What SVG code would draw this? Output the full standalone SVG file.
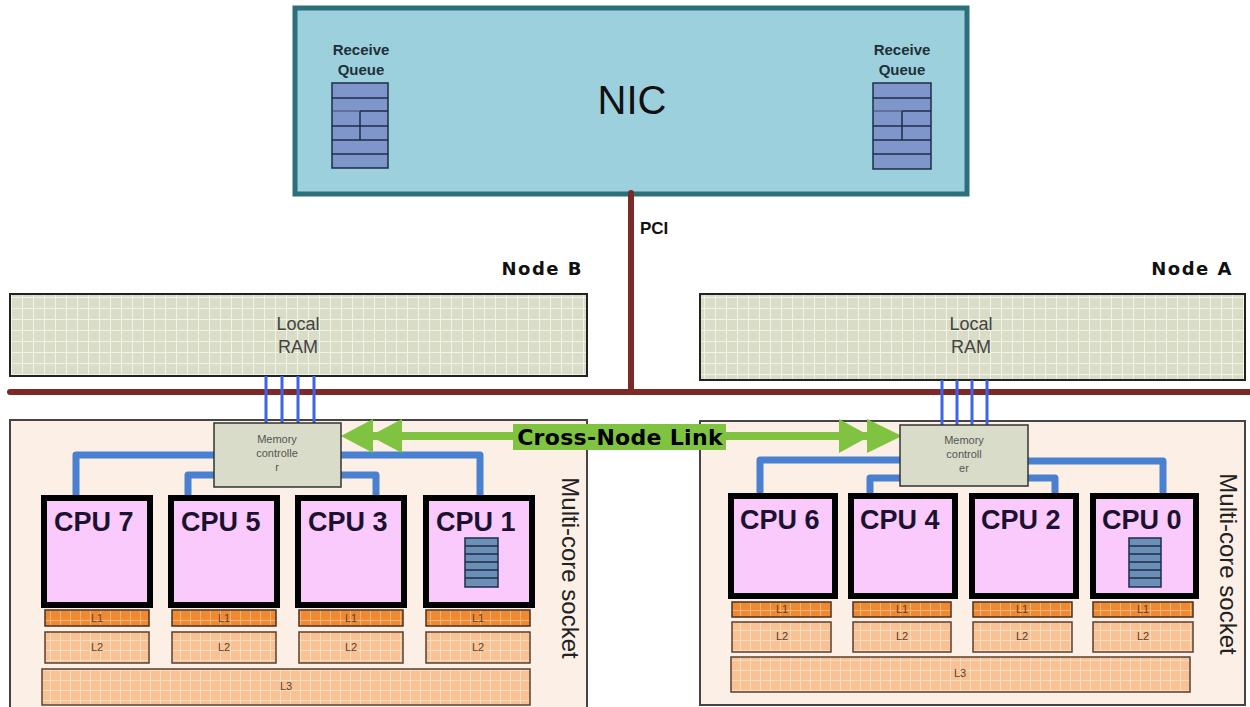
<svg xmlns="http://www.w3.org/2000/svg" width="1250" height="707" viewBox="0 0 1250 707">
<defs>
<pattern id="ramGrid" width="11" height="11" patternUnits="userSpaceOnUse">
<rect width="11" height="11" fill="#d9dcc6"/>
<path d="M0 0.5H11M0.5 0V11" stroke="#f2f3e6" stroke-width="1"/>
</pattern>
<pattern id="l1Grid" width="10" height="10" patternUnits="userSpaceOnUse">
<rect width="10" height="10" fill="#f08a32"/>
<path d="M0 0.5H10M0.5 0V10" stroke="#f6b377" stroke-width="1"/>
</pattern>
<pattern id="l2Grid" width="10" height="10" patternUnits="userSpaceOnUse">
<rect width="10" height="10" fill="#f8c294"/>
<path d="M0 0.5H10M0.5 0V10" stroke="#fcdcc0" stroke-width="1"/>
</pattern>
</defs>
<style>
.lbl{font-family:"Liberation Sans",Arial,sans-serif;}
.rq{font-family:"Liberation Sans",Arial,sans-serif;font-weight:bold;font-size:15px;fill:#1e3038;text-anchor:middle;}
.ram{fill:url(#ramGrid);stroke:#222;stroke-width:2;}
.ramt{font-family:"Liberation Sans",Arial,sans-serif;font-size:18px;fill:#444;text-anchor:middle;}
.node{font-family:"DejaVu Sans",Verdana,sans-serif;font-weight:bold;font-size:18px;fill:#111;text-anchor:end;}
.sock{fill:#fcefe5;stroke:#444;stroke-width:2;}
.sockt{font-family:"Liberation Sans",Arial,sans-serif;font-size:24px;fill:#222;text-anchor:middle;}
.mc{fill:#d9dcc9;stroke:#333;stroke-width:1.5;}
.mct{font-family:"Liberation Sans",Arial,sans-serif;font-size:11px;fill:#555;text-anchor:middle;}
.cpu{fill:#fbcafc;stroke:#000;stroke-width:6;}
.cput{font-family:"Liberation Sans",Arial,sans-serif;font-weight:bold;font-size:27px;fill:#1c1230;}
.l1{fill:url(#l1Grid);stroke:#4a3020;stroke-width:1.5;}
.l2{fill:url(#l2Grid);stroke:#5a4030;stroke-width:1.5;}
.ct{font-family:"Liberation Sans",Arial,sans-serif;font-size:11px;fill:#5a4030;text-anchor:middle;}
.bus{stroke:#7b2b26;stroke-width:6;fill:none;stroke-linecap:round;}
.mem{stroke:#3d63e6;stroke-width:3;fill:none;}
.link{stroke:#4a80d0;stroke-width:7;fill:none;stroke-linejoin:round;stroke-linecap:round;}
.q{fill:#7e96c9;stroke:#1e2c48;stroke-width:1.5;}
.ql{stroke:#1e2c48;stroke-width:1.5;}
.cq{fill:#6c8fb8;stroke:#1e2c48;stroke-width:1.5;}
.green{fill:#80c341;}
</style>

<!-- NIC -->
<g id="nic">
<rect x="295" y="8" width="672" height="186" fill="#9dd0dd" stroke="#2e6f7c" stroke-width="5"/>
<text x="632" y="114" class="lbl" font-size="40" fill="#111" text-anchor="middle">NIC</text>
</g>
<g id="rq-left">
<text x="361" y="55" class="rq">Receive</text>
<text x="361" y="75" class="rq">Queue</text>
<rect x="332" y="83" width="56" height="85" class="q"/>
<path d="M332 98H388M360 111H388M332 126H388M332 140H388M332 154H388M360 111V140" class="ql" fill="none"/>
<path d="M332 111H360" stroke="#3a4c78" stroke-width="1"/>
</g>
<g id="rq-right">
<text x="902" y="55" class="rq">Receive</text>
<text x="902" y="75" class="rq">Queue</text>
<rect x="873" y="83" width="58" height="86" class="q"/>
<path d="M873 98H931M902 111H931M873 126H931M873 140H931M873 154H931M902 111V140" class="ql" fill="none"/>
<path d="M873 111H902" stroke="#3a4c78" stroke-width="1"/>
</g>

<!-- Node labels -->
<text x="583" y="275" class="node" letter-spacing="1.5">Node B</text>
<text x="1233" y="275" class="node" letter-spacing="1.5">Node A</text>

<!-- RAM -->
<g id="ram-b">
<rect x="10" y="294" width="577" height="82" class="ram"/>
<text x="298" y="330" class="ramt">Local</text>
<text x="298" y="353" class="ramt">RAM</text>
</g>
<g id="ram-a">
<rect x="700" y="294" width="545" height="86" class="ram"/>
<text x="971" y="330" class="ramt">Local</text>
<text x="971" y="353" class="ramt">RAM</text>
</g>

<!-- Sockets -->
<g id="socket-b">
<rect x="10" y="420" width="577" height="292" class="sock"/>
<text transform="translate(562,568) rotate(90)" class="sockt">Multi-core socket</text>
</g>
<g id="socket-a">
<rect x="700" y="421" width="545" height="284" class="sock"/>
<text transform="translate(1220,564) rotate(90)" class="sockt">Multi-core socket</text>
</g>

<!-- Connectors -->
<g id="connectors">
<path d="M631 193V392" class="bus"/>
<path d="M10 392H1250" class="bus"/>
<path d="M266 376V423M282 376V423M298 376V423M314 376V423" class="mem"/>
<path d="M942 380V425M957 380V425M972 380V425M987 380V425" class="mem"/>
<path d="M214 455H76V494" class="link"/>
<path d="M214 475H188V494" class="link"/>
<path d="M341 475H376V494" class="link"/>
<path d="M341 455H480V494" class="link"/>
<path d="M900 460H760V492" class="link"/>
<path d="M900 478H870V492" class="link"/>
<path d="M1028 478H1055V492" class="link"/>
<path d="M1028 461H1163V492" class="link"/>
<path d="M370 436H870" stroke="#80c341" stroke-width="8"/>
<polygon points="341,436 373,419 373,453" class="green"/>
<polygon points="370,436 402,419 402,453" class="green"/>
<polygon points="902,436 867,419 867,453" class="green"/>
<polygon points="870,436 839,419 839,453" class="green"/>
<rect x="513" y="424" width="213" height="26" class="green"/>
<text x="620" y="445" font-family="'DejaVu Sans',Verdana,sans-serif" font-weight="bold" font-size="22" fill="#000" text-anchor="middle" letter-spacing="0.3">Cross-Node Link</text>
<text x="640" y="234" class="lbl" font-weight="bold" font-size="17" fill="#111">PCI</text>
</g>

<!-- Memory controllers -->
<g id="mc-b">
<rect x="214" y="423" width="127" height="64" class="mc"/>
<text x="277" y="443" class="mct">Memory</text>
<text x="277" y="457" class="mct">controlle</text>
<text x="277" y="471" class="mct">r</text>
</g>
<g id="mc-a">
<rect x="900" y="425" width="128" height="61" class="mc"/>
<text x="964" y="444" class="mct">Memory</text>
<text x="964" y="458" class="mct">controll</text>
<text x="964" y="472" class="mct">er</text>
</g>

<!-- Node B CPUs -->
<g id="cpu7">
<rect x="44" y="498" width="106" height="107" class="cpu"/>
<text x="54" y="531" class="cput">CPU 7</text>
<rect x="45" y="610" width="104" height="16" class="l1"/><text x="97" y="622" class="ct">L1</text>
<rect x="45" y="632" width="104" height="31" class="l2"/><text x="97" y="651" class="ct">L2</text>
</g>
<g id="cpu5">
<rect x="171" y="498" width="106" height="107" class="cpu"/>
<text x="181" y="531" class="cput">CPU 5</text>
<rect x="172" y="610" width="104" height="16" class="l1"/><text x="224" y="622" class="ct">L1</text>
<rect x="172" y="632" width="104" height="31" class="l2"/><text x="224" y="651" class="ct">L2</text>
</g>
<g id="cpu3">
<rect x="298" y="498" width="106" height="107" class="cpu"/>
<text x="308" y="531" class="cput">CPU 3</text>
<rect x="299" y="610" width="104" height="16" class="l1"/><text x="351" y="622" class="ct">L1</text>
<rect x="299" y="632" width="104" height="31" class="l2"/><text x="351" y="651" class="ct">L2</text>
</g>
<g id="cpu1">
<rect x="426" y="498" width="106" height="107" class="cpu"/>
<text x="436" y="531" class="cput">CPU 1</text>
<rect x="465" y="538" width="33" height="49" class="cq"/>
<path d="M465 546H498M465 554H498M465 562H498M465 570H498M465 578H498" class="ql"/>
<rect x="426" y="610" width="104" height="16" class="l1"/><text x="478" y="622" class="ct">L1</text>
<rect x="426" y="632" width="104" height="31" class="l2"/><text x="478" y="651" class="ct">L2</text>
</g>
<g id="l3-b">
<rect x="42" y="669" width="488" height="36" class="l2"/>
<text x="286" y="690" class="ct">L3</text>
</g>

<!-- Node A CPUs -->
<g id="cpu6">
<rect x="731" y="496" width="104" height="100" class="cpu"/>
<text x="740" y="529" class="cput">CPU 6</text>
<rect x="732" y="602" width="99" height="15" class="l1"/><text x="782" y="613" class="ct">L1</text>
<rect x="732" y="622" width="99" height="30" class="l2"/><text x="782" y="640" class="ct">L2</text>
</g>
<g id="cpu4">
<rect x="851" y="496" width="104" height="100" class="cpu"/>
<text x="860" y="529" class="cput">CPU 4</text>
<rect x="853" y="602" width="98" height="15" class="l1"/><text x="902" y="613" class="ct">L1</text>
<rect x="853" y="622" width="98" height="30" class="l2"/><text x="902" y="640" class="ct">L2</text>
</g>
<g id="cpu2">
<rect x="972" y="496" width="104" height="100" class="cpu"/>
<text x="981" y="529" class="cput">CPU 2</text>
<rect x="973" y="602" width="99" height="15" class="l1"/><text x="1022" y="613" class="ct">L1</text>
<rect x="973" y="622" width="99" height="30" class="l2"/><text x="1022" y="640" class="ct">L2</text>
</g>
<g id="cpu0">
<rect x="1093" y="496" width="103" height="100" class="cpu"/>
<text x="1102" y="529" class="cput">CPU 0</text>
<rect x="1129" y="538" width="32" height="49" class="cq"/>
<path d="M1129 546H1161M1129 554H1161M1129 562H1161M1129 570H1161M1129 578H1161" class="ql"/>
<rect x="1093" y="602" width="100" height="15" class="l1"/><text x="1143" y="613" class="ct">L1</text>
<rect x="1093" y="622" width="100" height="30" class="l2"/><text x="1143" y="640" class="ct">L2</text>
</g>
<g id="l3-a">
<rect x="731" y="657" width="459" height="35" class="l2"/>
<text x="960" y="677" class="ct">L3</text>
</g>
</svg>
